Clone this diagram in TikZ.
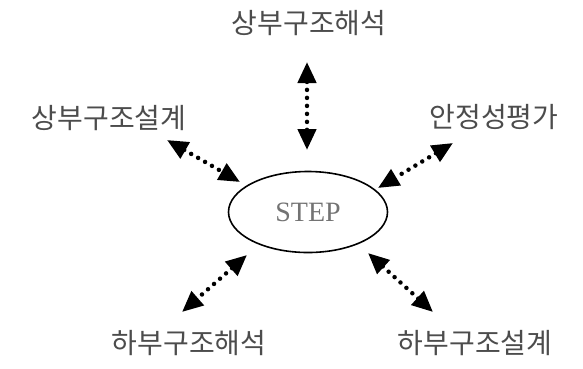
\documentclass[tikz,border=0pt]{standalone}
\usepackage{fontspec}
\newfontfamily\kr{Noto Sans CJK KR}
\setmainfont{Liberation Serif}
\usetikzlibrary{arrows.meta,shapes.geometric}
\tikzset{
  lbl/.style={font=\kr\fontsize{28}{28}\selectfont, text=black!70, inner sep=0pt},
  link/.style={line width=4.5pt, line cap=round, dash pattern=on 0pt off 8pt,
    {Triangle[length=21pt,width=18pt]}-{Triangle[length=21pt,width=18pt]}, black},
  hub/.style={ellipse, draw, line width=1.6pt, minimum width=159pt, minimum height=81pt, inner sep=0pt,
    font=\fontsize{28}{28}\selectfont, text=black!55}
}
\begin{document}
\begin{tikzpicture}[x=1pt,y=-1pt]
\useasboundingbox (0,0) rectangle (583,368);
\node[hub] (step) at (308,212) {STEP};
\node[lbl] (top) at (309,23) {상부구조해석};
\node[lbl] (ul) at (109,118) {상부구조설계};
\node[lbl] (ur) at (494,117) {안정성평가};
\node[lbl] (ll) at (189,343) {하부구조해석};
\node[lbl] (lr) at (475,343) {하부구조설계};
\coordinate (v1) at (307,62);  \coordinate (v2) at (307,150);
\coordinate (a1) at (167,140); \coordinate (a2) at (240,182);
\coordinate (b1) at (453,143); \coordinate (b2) at (378,188);
\coordinate (c1) at (247,255); \coordinate (c2) at (182,312);
\coordinate (d1) at (368,253); \coordinate (d2) at (433,312);
\draw[link] (v1) -- (v2);
\draw[link] (a1) -- (a2);
\draw[link] (b1) -- (b2);
\draw[link] (c1) -- (c2);
\draw[link] (d1) -- (d2);
\end{tikzpicture}
\end{document}
